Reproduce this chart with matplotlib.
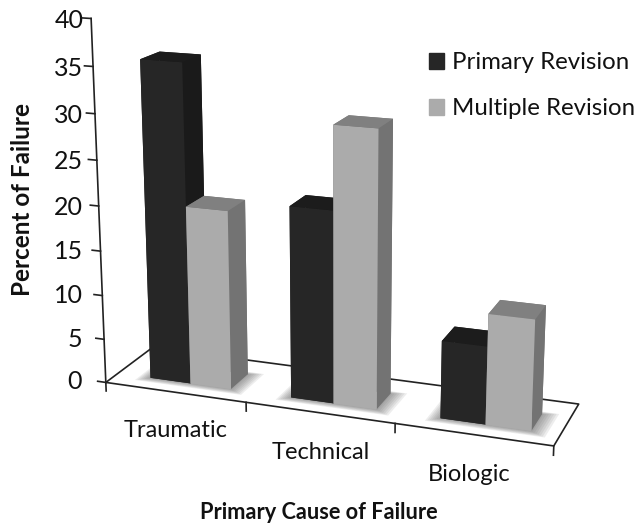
import numpy as np
import matplotlib
matplotlib.use('Agg')
import matplotlib.pyplot as plt
from matplotlib.patches import Patch
from mpl_toolkits.mplot3d.art3d import Poly3DCollection

plt.rcParams['font.family'] = ['Lato', 'DejaVu Sans']

categories = ['Traumatic', 'Technical', 'Biologic']
primary = [35.5, 21.2, 8.5]
multiple = [20, 30.2, 12]
z_ticks = [0, 5, 10, 15, 20, 25, 30, 35, 40]
label_x = [0.5, 1.51, 2.48]

# face order for bar3d: bottom, top, front, back, left, right
dark_faces = ['#262626', '#1c1c1c', '#262626', '#1a1a1a', '#1a1a1a', '#1a1a1a']
light_faces = ['#ababab', '#808080', '#ababab', '#737373', '#737373', '#737373']

fig = plt.figure(figsize=(6.36, 5.24), dpi=100)
ax = fig.add_axes([0.021, 0.078, 1.0, 1.0], projection='3d', computed_zorder=False)
ax.set_proj_type('persp', focal_length=0.6)
ax.view_init(elev=16, azim=-70)
ax.set_box_aspect((482, 112, 387), zoom=1.155)
ax.set_xlim(0, 3, view_margin=0)
ax.set_ylim(0, 1, view_margin=0)
ax.set_zlim(0, 40, view_margin=0)
ax.set_axis_off()

line = dict(color='#222222', lw=1.2, zorder=1)
# floor
ax.plot([0, 3, 3, 0, 0], [0, 0, 1, 1, 0], [0, 0, 0, 0, 0], **line)
# value axis with ticks
ax.plot([0, 0], [0, 0], [0, 40], **line)
for z in z_ticks:
    ax.plot([-0.06, 0], [0, 0], [z, z], **line)
    ax.text(-0.175 + z * 0.003, 0, z - 0.3, str(z), ha='right', va='center', fontsize=18, color='#111111')
# category ticks and labels
for i in range(4):
    ax.plot([i, i], [0, 0], [0, -1.0], **line)
for x, name in zip(label_x, categories):
    ax.text(x, 0, -4.5, name, ha='center', va='center', fontsize=17, color='#111111')

# soft shadow under each pair of bars
for i in range(len(categories)):
    for m in [0.1, 0.085, 0.07, 0.055, 0.04, 0.025, 0.01]:
        x0, x1 = i + 0.24 - m * 0.8, i + 0.82 + m
        y0, y1 = 0.25 - m, 0.65 + m * 0.6
        shadow = Poly3DCollection([[(x0, y0, 0), (x1, y0, 0), (x1, y1, 0), (x0, y1, 0)]],
                                  facecolor='#555555', edgecolor='none', alpha=0.1, zorder=1.5)
        ax.add_collection3d(shadow)

# bars, left to right so the nearer ones paint over
for i in range(len(categories)):
    ax.bar3d(i + 0.24, 0.25, 0, 0.29, 0.4, primary[i], color=dark_faces, shade=False, zorder=2 + 2 * i)
    ax.bar3d(i + 0.53, 0.25, 0, 0.29, 0.4, multiple[i], color=light_faces, shade=False, zorder=3 + 2 * i)

fig.text(0.036, 0.62, 'Percent of Failure', rotation=90, ha='center', va='center',
         fontsize=17.5, fontweight='bold', color='#111111')
fig.text(0.502, 0.022, 'Primary Cause of Failure', ha='center', va='center',
         fontsize=15.7, fontweight='bold', color='#111111')

handles = [Patch(color='#262626', label='Primary Revision'), Patch(color='#ababab', label='Multiple Revision')]
fig.legend(handles=handles, loc='upper left', bbox_to_anchor=(0.675, 0.9), frameon=False,
           fontsize=17.3, handlelength=0.6, handleheight=0.6, handletextpad=0.35, labelspacing=1.04,
           borderpad=0, borderaxespad=0, labelcolor='#111111')

fig.savefig('out.png', dpi=100)
